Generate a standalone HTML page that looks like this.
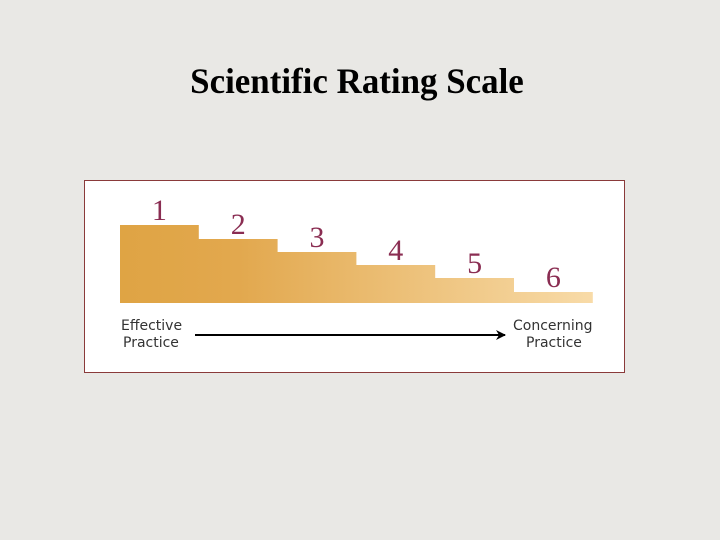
<!DOCTYPE html>
<html><head><meta charset="utf-8"><style>
body{margin:0;width:720px;height:540px;background:#e9e8e5;overflow:hidden;font-family:"Liberation Sans",sans-serif}
#title{position:absolute;left:0;width:714px;top:60px;text-align:center;font:bold 36px "Liberation Serif",serif;color:#000;transform:scaleX(0.97)}
</style></head><body>
<div id="title">Scientific Rating Scale</div>
<svg width="720" height="540" style="position:absolute;left:0;top:0">
<defs><linearGradient id="g" x1="120" x2="593" y1="0" y2="0" gradientUnits="userSpaceOnUse">
<stop offset="0" stop-color="#dfa444"/><stop offset="0.25" stop-color="#e2a84e"/><stop offset="1" stop-color="#f8dba8"/></linearGradient>
<marker id="ah" markerWidth="10" markerHeight="10" refX="9" refY="5" orient="auto" markerUnits="userSpaceOnUse"><path d="M0,0 L10,5 L0,10 L3,5 Z" fill="#000"/></marker></defs>
<rect x="84.5" y="180.5" width="540" height="192" fill="#fff" stroke="#8a3a3a" stroke-width="1"/>
<g id="bars"></g>
<g font-family="'DejaVu Sans',sans-serif" font-size="14" fill="#333">
<text x="121" y="330">Effective</text>
<text x="123" y="347">Practice</text>
<text x="513" y="330">Concerning</text>
<text x="526" y="347">Practice</text>
</g>
<line x1="195" y1="335" x2="505" y2="335" stroke="#000" stroke-width="2" marker-end="url(#ah)"/>
</svg>
<script>
const categories=["1","2","3","4","5","6"];
const values=[78,64,51,38,25,11];
const x0=120,stepW=78.8,base=303,yScale=v=>base-v;
const g=document.getElementById('bars');
const ns="http://www.w3.org/2000/svg";
let d="M"+x0+","+base;
values.forEach((v,i)=>{d+=" L"+(x0+i*stepW)+","+yScale(v)+" L"+(x0+(i+1)*stepW)+","+yScale(v);});
d+=" L"+(x0+values.length*stepW)+","+base+" Z";
const p=document.createElementNS(ns,'path');
p.setAttribute('d',d);p.setAttribute('fill','url(#g)');


g.appendChild(p);
categories.forEach((c,i)=>{
 const t=document.createElementNS(ns,'text');
 t.setAttribute('x',x0+i*stepW+stepW/2);t.setAttribute('y',yScale(values[i])-5);
 t.setAttribute('text-anchor','middle');t.setAttribute('font-family','"Liberation Serif",serif');
 t.setAttribute('font-size','30');t.setAttribute('fill','#8a2d52');
 t.textContent=c;
 
 
 g.appendChild(t);
});
</script>
</body></html>
